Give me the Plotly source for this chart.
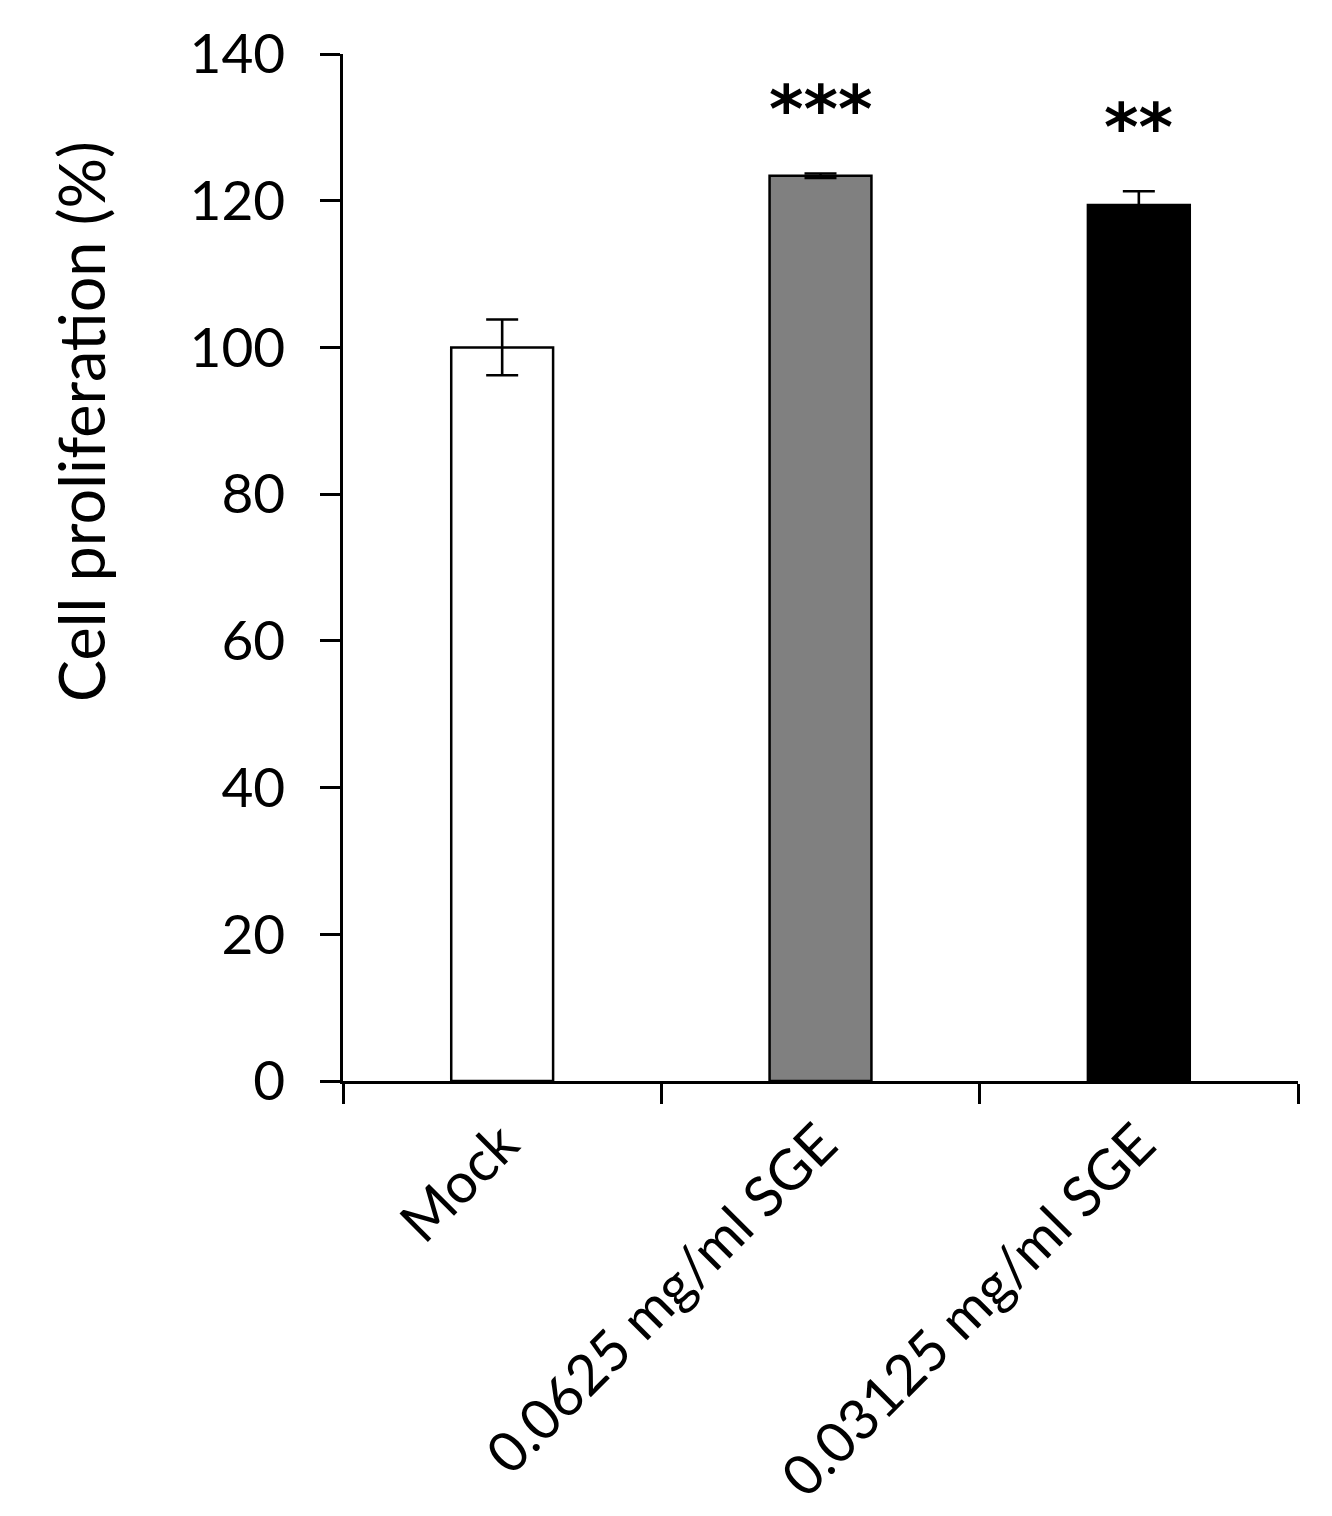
import plotly.graph_objects as go

categories = ["Mock", "0.0625 mg/ml SGE", "0.03125 mg/ml SGE"]
values = [100.0, 123.4, 119.4]
errors = [3.8, 0.3, 1.9]
stars = ["", "***", "**"]
bar_colors = ["#ffffff", "#808080", "#000000"]
y_ticks = [0, 20, 40, 60, 80, 100, 120, 140]

FONT = "Lato"

fig = go.Figure()
fig.add_trace(go.Bar(
    x=categories, y=values,
    width=0.32,
    marker=dict(color=bar_colors, line=dict(color="#000000", width=2.5)),
    error_y=dict(type="data", array=errors, visible=True, color="#000000",
                 thickness=2.6, width=16),
    showlegend=False,
))

for c, v, e, s in zip(categories, values, errors, stars):
    if s:
        fig.add_annotation(x=c, y=v + e, text="<b>" + s + "</b>", showarrow=False,
                           yanchor="middle", yshift=64,
                           font=dict(family="DejaVu Sans", size=66, color="#000000"))

fig.add_annotation(xref="paper", yref="paper", x=-0.275, y=0.642,
                   text="Cell proliferation (%)", textangle=-90, showarrow=False,
                   xanchor="center", yanchor="middle",
                   font=dict(family=FONT, size=63, color="#000000"))

fig.update_layout(
    width=1332, height=1516,
    margin=dict(l=335, r=42, t=46, b=443, autoexpand=False),
    plot_bgcolor="#ffffff", paper_bgcolor="#ffffff",
    font=dict(family=FONT, color="#000000"),
)
fig.update_xaxes(
    type="category", range=[-0.5, 2.5], automargin=False,
    showline=True, linecolor="#000000", linewidth=2.5,
    ticks="outside", ticklen=20, tickwidth=2.5, tickcolor="#000000",
    tickson="boundaries", tickangle=-45, ticklabelstandoff=5,
    tickfont=dict(family=FONT, size=56, color="#000000"),
    showgrid=False, zeroline=False,
)
fig.update_yaxes(
    range=[0, 140], tickvals=y_ticks, automargin=False,
    showline=True, linecolor="#000000", linewidth=2.5,
    ticks="outside", ticklen=20, tickwidth=2.5, tickcolor="#000000",
    ticklabelstandoff=24,
    tickfont=dict(family=FONT, size=55, color="#000000"),
    showgrid=False, zeroline=False,
)

fig.write_html("out.html")
